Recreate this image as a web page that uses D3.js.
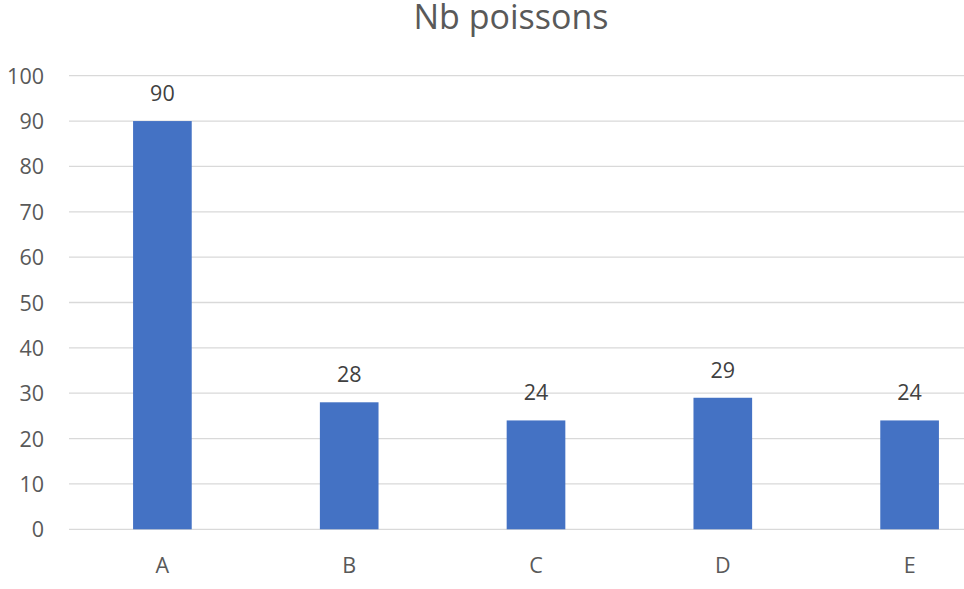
<!DOCTYPE html>
<html>
<head>
<meta charset="utf-8">
<script src="https://cdn.jsdelivr.net/npm/d3@7"></script>
<style>
  html, body { margin: 0; padding: 0; background: #fff; }
  svg { display: block; }
</style>
</head>
<body>
<svg id="chart" width="964" height="589"></svg>
<script>
const title = "Nb poissons";
const categories = ["A", "B", "C", "D", "E"];
const values = [90, 28, 24, 29, 24];
const yTicks = [0, 10, 20, 30, 40, 50, 60, 70, 80, 90, 100];

const svg = d3.select("#chart");
const font = "'Open Sans', 'Noto Sans', sans-serif";

const x = d3.scaleBand().domain(categories).range([69, 1003]).padding(0);
const y = d3.scaleLinear().domain([0, 100]).range([529.3, 75.7]);
const barFrac = 0.314;

// gridlines
svg.append("g")
  .selectAll("line")
  .data(yTicks)
  .join("line")
  .attr("x1", 69).attr("x2", 1003)
  .attr("y1", d => y(d)).attr("y2", d => y(d))
  .attr("stroke", "#d9d9d9").attr("stroke-width", 1.3);

// y axis labels
const yAxis = d3.axisLeft(y).tickValues(yTicks).tickSize(0).tickPadding(0);
const ya = svg.append("g").attr("transform", "translate(44,0)").call(yAxis);
ya.select(".domain").remove();
ya.selectAll("text")
  .attr("font-family", font).attr("font-size", 21.5)
  .attr("fill", "#595959").attr("dy", "0.35em");

// bars
svg.append("g")
  .selectAll("rect")
  .data(values)
  .join("rect")
  .attr("x", (d, i) => x(categories[i]) + x.bandwidth() * (1 - barFrac) / 2)
  .attr("width", x.bandwidth() * barFrac)
  .attr("y", d => y(d))
  .attr("height", d => y(0) - y(d))
  .attr("fill", "#4472c4");

// data labels
svg.append("g")
  .selectAll("text")
  .data(values)
  .join("text")
  .attr("x", (d, i) => x(categories[i]) + x.bandwidth() / 2)
  .attr("y", d => y(d) - 20)
  .attr("text-anchor", "middle")
  .attr("font-family", font).attr("font-size", 21.5)
  .attr("fill", "#404040")
  .text(d => d);

// x axis labels
const xAxis = d3.axisBottom(x).tickSize(0).tickPadding(0);
const xa = svg.append("g").attr("transform", "translate(0,572.5)").call(xAxis);
xa.select(".domain").remove();
xa.selectAll("text")
  .attr("font-family", font).attr("font-size", 21.5)
  .attr("fill", "#595959").attr("dy", 0);

// title
svg.append("text")
  .attr("x", 511).attr("y", 29)
  .attr("text-anchor", "middle")
  .attr("font-family", font).attr("font-size", 34)
  .attr("fill", "#595959")
  .text(title);
</script>
</body>
</html>
